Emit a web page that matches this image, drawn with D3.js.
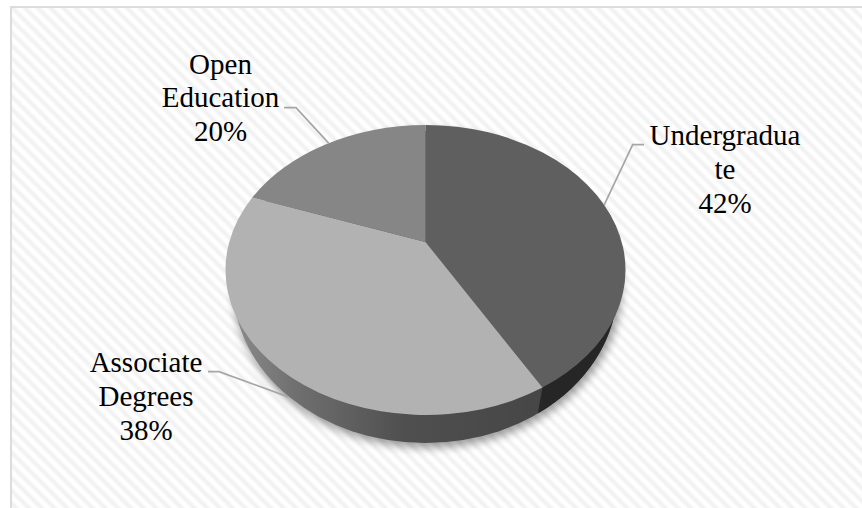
<!DOCTYPE html>
<html><head><meta charset="utf-8">
<script src="https://cdnjs.cloudflare.com/ajax/libs/d3/7.8.5/d3.min.js"></script>
<style>html,body{margin:0;padding:0;background:#fff;overflow:hidden}svg{display:block}</style>
</head><body><svg id="c" width="862" height="508"></svg>
<script>
const categories = ["Undergraduate", "Associate Degrees", "Open Education"];
const shares = [42, 38, 20];
const sliceColors = ["#5f5f5f", "#b2b2b2", "#868686"];
const labelLines = [["Undergradua", "te", "42%"], ["Associate", "Degrees", "38%"], ["Open", "Education", "20%"]];

const W = 862, H = 508;
const top3d = {cx: 425.5, cy: 270, rx: 200, ry: 145};
const bot3d = {cx: 425.5, cy: 287, rx: 192, ry: 156};
const apex = [425.5, 242];
const persp = 0.795;
// label layout: text centre, first baseline, leader elbow
const labelLayout = [
  {x: 725, y: 145, from: [644, 144.7], elbow: [632.7, 144.7], onWall: false, nudge: [0, 0]},
  {x: 146, y: 372, from: [208, 371.7], elbow: [219, 371.7], onWall: true, nudge: [7, 7]},
  {x: 220.5, y: 73.5, from: [284, 107.7], elbow: [296, 107.7], onWall: false, nudge: [0, 0]}
];

const svg = d3.select("#c");
const defs = svg.append("defs");
const sg = defs.append("linearGradient").attr("id", "stripe").attr("x1", 0).attr("y1", 0).attr("x2", 0).attr("y2", 1);
[[0, "#ffffff"], [.25, "#ffffff"], [.62, "#f0f0f0"], [.8, "#f4f4f4"], [1, "#ffffff"]].forEach(([o, c]) => sg.append("stop").attr("offset", o).attr("stop-color", c));
defs.append("pattern").attr("id", "bg").attr("patternUnits", "userSpaceOnUse").attr("width", 9).attr("height", 9)
  .attr("patternTransform", "rotate(45)")
  .append("rect").attr("width", 9).attr("height", 9).attr("fill", "url(#stripe)");
const wg = defs.append("linearGradient").attr("id", "wall").attr("gradientUnits", "userSpaceOnUse").attr("x1", 235).attr("y1", 0).attr("x2", 545).attr("y2", 0);
[[0, "#8a8a8a"], [.2, "#6f6f6f"], [.55, "#4f4f4f"], [1, "#464646"]].forEach(([o, c]) => wg.append("stop").attr("offset", o).attr("stop-color", c));
defs.append("filter").attr("id", "blur").attr("x", "-10%").attr("y", "-10%").attr("width", "120%").attr("height", "120%")
  .append("feGaussianBlur").attr("stdDeviation", 4);

svg.append("rect").attr("width", W).attr("height", H).attr("fill", "#fff");
svg.append("rect").attr("x", 12).attr("y", 8).attr("width", W - 12).attr("height", H - 8).attr("fill", "url(#bg)");
svg.append("path").attr("d", `M11 ${H}V7H${W}`).attr("fill", "none").attr("stroke", "#dcdcdc").attr("stroke-width", 2);

const pie = d3.pie().sort(null).value(d => d);
const arcs = pie(shares);
// true disc angle -> angle on the projected ellipse
const project = a => {
  const n = ((a + Math.PI) % (2 * Math.PI) + 2 * Math.PI) % (2 * Math.PI) - Math.PI;
  let t = 2 * Math.atan(persp * Math.tan(n / 2));
  return t < 0 && a > 0 ? t + 2 * Math.PI : t;
};
const pt = (e, t) => [e.cx + e.rx * Math.sin(t), e.cy - e.ry * Math.cos(t)];
const ellipseArc = (e, t0, t1) => {
  const [x, y] = pt(e, t1);
  return `A${e.rx} ${e.ry} 0 ${t1 - t0 > Math.PI ? 1 : 0} 1 ${x} ${y}`;
};

// shadow and wall
svg.append("ellipse").attr("cx", bot3d.cx + 2).attr("cy", bot3d.cy + 2).attr("rx", bot3d.rx + 2).attr("ry", bot3d.ry + 3)
  .attr("fill", "#000").attr("opacity", .38).attr("filter", "url(#blur)");
svg.append("ellipse").attr("cx", bot3d.cx).attr("cy", bot3d.cy).attr("rx", bot3d.rx).attr("ry", bot3d.ry).attr("fill", "url(#wall)");
const seam = project(arcs[0].endAngle);
const sTop = pt(top3d, seam), sBot = pt(bot3d, seam), side = pt(bot3d, Math.PI / 2), sideTop = pt(top3d, Math.PI / 2);
svg.append("path").attr("fill", "#262626")
  .attr("d", `M${sTop[0]} ${sTop[1]}L${sBot[0]} ${sBot[1]}A${bot3d.rx} ${bot3d.ry} 0 0 0 ${side[0]} ${side[1]}L${sideTop[0]} ${sideTop[1]}Z`);

// top surface
svg.append("g").selectAll("path").data(arcs).join("path")
  .attr("fill", (d, i) => sliceColors[i])
  .attr("d", d => {
    const t0 = project(d.startAngle), t1 = d.endAngle >= 2 * Math.PI - 1e-6 ? 2 * Math.PI : project(d.endAngle);
    const s = pt(top3d, t0);
    return `M${apex[0]} ${apex[1]}L${s[0]} ${s[1]}${ellipseArc(top3d, t0, t1)}Z`;
  });

// leaders
arcs.forEach((d, i) => {
  const l = labelLayout[i];
  const t = project((d.startAngle + d.endAngle) / 2);
  const e = pt(l.onWall ? bot3d : top3d, t);
  const end = [e[0] + l.nudge[0], e[1] + l.nudge[1]];
  svg.append("path").attr("fill", "none").attr("stroke", "#a6a6a6").attr("stroke-width", 1.7)
    .attr("d", d3.line()([l.from, l.elbow, end]));
});

// labels
const labels = svg.append("g").attr("font-family", "'Liberation Serif','Times New Roman',serif").attr("font-size", 29).attr("fill", "#000").attr("text-anchor", "middle");
labelLines.forEach((lines, i) => {
  const l = labelLayout[i];
  lines.forEach((s, j) => labels.append("text").attr("x", l.x).attr("y", l.y + j * 33.9).text(s));
});
</script></body></html>
